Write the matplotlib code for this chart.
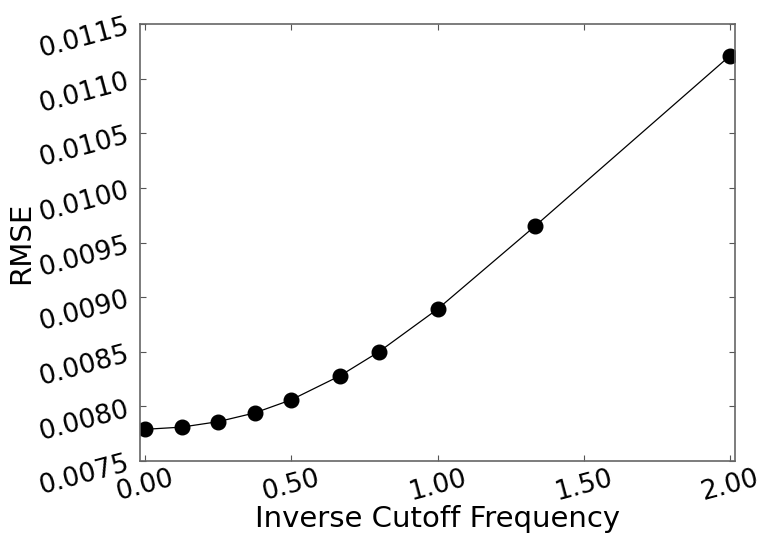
import matplotlib
matplotlib.use("Agg")
import matplotlib.pyplot as plt

inv_cutoff = [0.0, 0.125, 0.25, 0.375, 0.5, 0.6667, 0.8, 1.0, 1.3333, 2.0]
rmse = [0.00779, 0.00781, 0.00786, 0.00794, 0.00806, 0.00828, 0.00850, 0.00889, 0.00965, 0.01121]
xticks = [0.0, 0.5, 1.0, 1.5, 2.0]
xticklabels = ["0.00", "0.50", "1.00", "1.50", "2.00"]
yticks = [0.0075, 0.0080, 0.0085, 0.0090, 0.0095, 0.0100, 0.0105, 0.0110, 0.0115]
yticklabels = ["%.4f" % v for v in yticks]

fig = plt.figure(figsize=(7.59, 5.38), dpi=100)
ax = fig.add_axes([140/759, 1-461/538, (735-140)/759, (461-24)/538])
ax.plot(inv_cutoff, rmse, color="black", linewidth=0.9, marker="o",
        markersize=10.5, markerfacecolor="black", markeredgecolor="black")
ax.set_xlim(-0.017, 2.017)
ax.set_ylim(0.0075, 0.0115)
ax.set_xticks(xticks)
ax.set_xticklabels(xticklabels, rotation=15, fontsize=19)
ax.set_yticks(yticks)
ax.set_yticklabels(yticklabels, rotation=15, fontsize=19)
ax.tick_params(direction="in", length=4, top=True, right=True, color="#555555")
ax.tick_params(axis="x", pad=3)
ax.tick_params(axis="y", pad=6)
for s in ax.spines.values():
    s.set_color("#666666")
    s.set_linewidth(1.2)
ax.set_xlabel("Inverse Cutoff Frequency", fontsize=21)
ax.xaxis.label.set_va("baseline")
ax.xaxis.set_label_coords(0.5, -(527 - 461) / 437)
ax.set_ylabel("RMSE", fontsize=21)
ax.yaxis.label.set_va("center")
ax.yaxis.set_label_coords((21 - 140) / 595, 0.5)
fig.savefig("out.png", dpi=100)
